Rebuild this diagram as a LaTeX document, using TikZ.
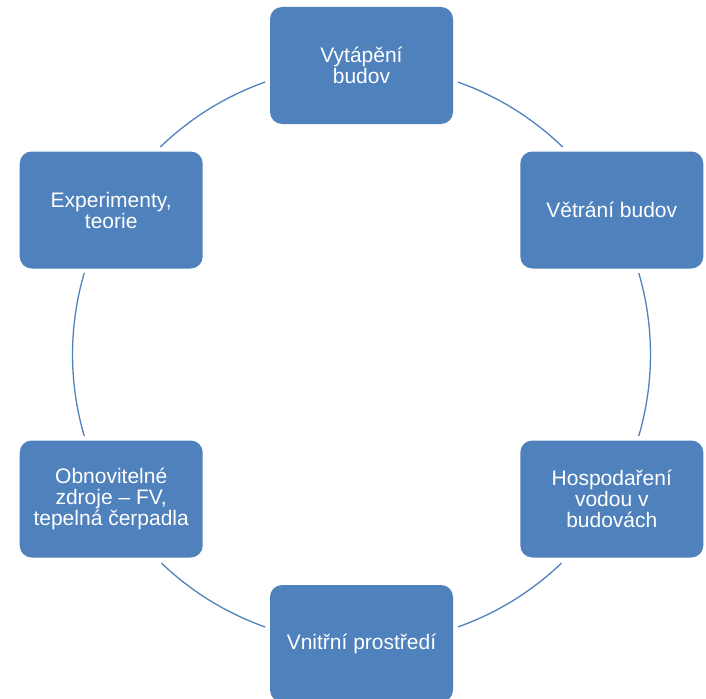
\documentclass[tikz,border=0pt]{standalone}
\usepackage{fontspec}
\setmainfont{Liberation Sans}
\definecolor{modra}{HTML}{4F81BD}
\tikzset{
    blok/.style={fill=modra, rounded corners=12pt, minimum width=183pt, minimum height=117pt,
        inner sep=0pt, text=white, align=center, font=\fontsize{21}{21}\selectfont},
    oblouk/.style={modra, line width=1.3pt}
}
\begin{document}
\begin{tikzpicture}[x=1pt,y=-1pt]
    \useasboundingbox (0,0) rectangle (706,698);
    \coordinate (stred) at (361.5,354.5);

    \node[blok] (vytapeni) at (361.5,65.5) {Vytápění\\budov};
    \node[blok] (vetrani) at (611.8,210) {Větrání budov};
    \node[blok] (voda) at (611.8,499) {Hospodaření\\vodou v\\budovách};
    \node[blok] (prostredi) at (361.5,643.5) {Vnitřní prostředí};
    \node[blok] (obnovitelne) at (111.2,499) {Obnovitelné\\zdroje -- FV,\\tepelná čerpadla};
    \node[blok] (experimenty) at (111.2,210) {Experimenty,\\teorie};

%    oblouky mezi bloky
    \foreach \a/\b in {70.5/45.9, 16.4/-16.4, -46.2/-70.5, -109.5/-133.8, 196.4/163.6, 134.1/109.5}
        \draw[oblouk] (stred) ++(\a:289pt) arc[start angle=\a, end angle=\b, radius=289pt];

\end{tikzpicture}
\end{document}
